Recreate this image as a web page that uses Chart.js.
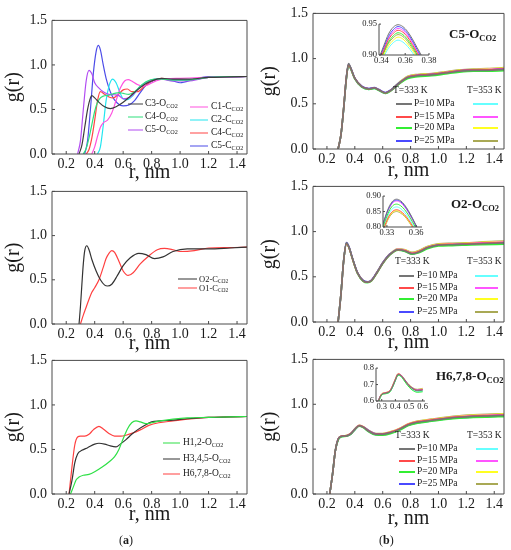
<!DOCTYPE html>
<html>
<head>
<meta charset="utf-8">
<script src="https://cdn.jsdelivr.net/npm/chart.js@4.4.1/dist/chart.umd.min.js"></script>
<style>
  html, body { margin: 0; padding: 0; background: #fff; }
  body { position: relative; width: 511px; height: 550px; overflow: hidden; font-family: 'Liberation Serif', 'Times New Roman', serif; color: #1a1a1a; }
  canvas { position: absolute; }
  .t { position: absolute; white-space: nowrap; line-height: 1; transform: translateY(-50%); }
  .t sub { font-size: 0.65em; vertical-align: baseline; position: relative; top: 0.3em; }
  .ln { position: absolute; height: 0; transform: translateY(-50%); }
</style>
</head>
<body>
<script>
// ---- tick labels ----
const rTicks = [0.2, 0.4, 0.6, 0.8, 1.0, 1.2, 1.4];
const gTicks = [0.0, 0.5, 1.0, 1.5];
const in1RTicks = [0.34, 0.36, 0.38], in1GTicks = [0.90, 0.95];
const in2RTicks = [0.33, 0.36], in2GTicks = [0.80, 0.85, 0.90];
const in3RTicks = [0.3, 0.4, 0.5, 0.6], in3GTicks = [0.6, 0.7, 0.8];

// ---- legend text ----
const subCO2 = 'CO2';
const a1Names = ['C3-O', 'C4-O', 'C5-O', 'C1-C', 'C2-C', 'C4-C', 'C5-C'];
const a2Names = ['O2-C', 'O1-C'];
const a3Names = ['H1,2-O', 'H3,4,5-O', 'H6,7,8-O'];
const bTitles = ['C5-O', 'O2-O', 'H6,7,8-O'];
const temps = ['T=333 K', 'T=353 K'];
const pressures = ['P=10 MPa', 'P=15 MPa', 'P=20 MPa', 'P=25 MPa'];

// ---- (a) top: r, g(r) ----
const rC3O = [0.29,0.31,0.33,0.35,0.37,0.38,0.40,0.43,0.47,0.51,0.55,0.60,0.65,0.70,0.75,0.80,0.87,0.95,1.05,1.2,1.35,1.47];
const gC3O = [0,0.10,0.30,0.50,0.63,0.655,0.63,0.58,0.53,0.51,0.53,0.58,0.65,0.72,0.78,0.82,0.85,0.84,0.84,0.86,0.865,0.87];
const rC4O = [0.32,0.34,0.36,0.38,0.40,0.42,0.44,0.46,0.50,0.54,0.57,0.60,0.64,0.68,0.72,0.76,0.82,0.88,0.95,1.05,1.2,1.35,1.47];
const gC4O = [0,0.06,0.18,0.33,0.48,0.58,0.63,0.65,0.66,0.68,0.69,0.68,0.67,0.70,0.76,0.81,0.84,0.84,0.83,0.83,0.86,0.87,0.87];
const rC5O = [0.28,0.30,0.32,0.34,0.36,0.38,0.40,0.43,0.46,0.50,0.54,0.57,0.60,0.65,0.70,0.75,0.80,0.87,0.95,1.05,1.2,1.35,1.47];
const gC5O = [0,0.15,0.50,0.82,0.94,0.90,0.80,0.74,0.70,0.67,0.665,0.655,0.62,0.64,0.72,0.79,0.83,0.84,0.82,0.82,0.86,0.87,0.87];
const rC1C = [0.38,0.40,0.42,0.44,0.46,0.49,0.52,0.55,0.58,0.61,0.635,0.66,0.70,0.74,0.78,0.83,0.90,1.0,1.1,1.2,1.35,1.47];
const gC1C = [0,0.08,0.20,0.30,0.35,0.38,0.46,0.60,0.74,0.82,0.835,0.82,0.78,0.76,0.78,0.82,0.845,0.85,0.855,0.86,0.865,0.87];
const rC2C = [0.42,0.44,0.46,0.48,0.50,0.525,0.55,0.575,0.60,0.63,0.67,0.72,0.78,0.85,0.92,1.0,1.1,1.2,1.35,1.47];
const gC2C = [0,0.08,0.32,0.60,0.76,0.84,0.80,0.70,0.62,0.61,0.66,0.76,0.82,0.845,0.84,0.83,0.84,0.86,0.865,0.87];
const rC4C = [0.34,0.36,0.38,0.40,0.42,0.44,0.47,0.50,0.53,0.56,0.60,0.63,0.66,0.70,0.75,0.80,0.87,0.95,1.05,1.2,1.35,1.47];
const gC4C = [0,0.05,0.18,0.38,0.60,0.70,0.67,0.64,0.63,0.66,0.72,0.73,0.70,0.70,0.76,0.82,0.85,0.84,0.83,0.86,0.865,0.87];
const rC5C = [0.33,0.35,0.37,0.39,0.41,0.425,0.44,0.46,0.48,0.52,0.56,0.60,0.64,0.68,0.72,0.76,0.82,0.88,0.95,1.0,1.1,1.2,1.3,1.47];
const gC5C = [0,0.15,0.50,0.90,1.15,1.22,1.17,1.00,0.85,0.66,0.57,0.54,0.55,0.60,0.69,0.77,0.83,0.84,0.82,0.80,0.84,0.87,0.86,0.87];

// ---- (a) middle ----
const rO2C = [0.29,0.30,0.31,0.32,0.33,0.345,0.36,0.38,0.41,0.44,0.47,0.49,0.52,0.56,0.60,0.65,0.71,0.76,0.82,0.88,0.95,1.05,1.2,1.35,1.47];
const gO2C = [0,0.20,0.45,0.68,0.83,0.885,0.84,0.73,0.60,0.50,0.44,0.43,0.45,0.55,0.66,0.75,0.80,0.785,0.74,0.76,0.82,0.85,0.85,0.86,0.87];
const rO1C = [0.30,0.32,0.34,0.36,0.38,0.40,0.43,0.46,0.48,0.50,0.52,0.54,0.57,0.60,0.635,0.67,0.72,0.78,0.84,0.89,0.95,1.0,1.1,1.2,1.35,1.47];
const gO1C = [0,0.10,0.19,0.28,0.36,0.41,0.50,0.64,0.74,0.80,0.83,0.81,0.71,0.60,0.55,0.58,0.68,0.77,0.84,0.855,0.84,0.82,0.83,0.86,0.865,0.87];

// ---- (a) bottom ----
const rH12 = [0.23,0.25,0.27,0.29,0.32,0.36,0.40,0.45,0.50,0.54,0.57,0.60,0.63,0.66,0.69,0.72,0.76,0.80,0.86,0.95,1.05,1.2,1.35,1.47];
const gH12 = [0,0.08,0.16,0.19,0.21,0.22,0.25,0.30,0.36,0.42,0.50,0.62,0.73,0.80,0.82,0.81,0.79,0.80,0.82,0.84,0.855,0.86,0.865,0.87];
const rH345 = [0.22,0.24,0.26,0.28,0.31,0.35,0.40,0.43,0.47,0.51,0.55,0.58,0.62,0.66,0.70,0.75,0.80,0.86,0.95,1.05,1.2,1.35,1.47];
const gH345 = [0,0.15,0.35,0.45,0.49,0.52,0.56,0.57,0.56,0.54,0.53,0.56,0.61,0.67,0.72,0.77,0.81,0.82,0.83,0.845,0.86,0.865,0.87];
const rH678 = [0.22,0.24,0.26,0.28,0.30,0.33,0.36,0.39,0.43,0.46,0.50,0.54,0.58,0.62,0.66,0.72,0.78,0.85,0.95,1.05,1.2,1.35,1.47];
const gH678 = [0,0.30,0.55,0.64,0.65,0.65,0.67,0.72,0.76,0.73,0.68,0.65,0.65,0.66,0.68,0.72,0.77,0.80,0.82,0.84,0.86,0.865,0.87];

// ---- (b) top: C5-O(CO2), order T333 P10..P25, T353 P10..P25 ----
const rB1 = [0.28,0.30,0.32,0.34,0.355,0.37,0.40,0.45,0.50,0.54,0.57,0.62,0.66,0.72,0.78,0.85,0.95,1.05,1.15,1.25,1.35,1.47];
const c5o333_10 = [0,0.15,0.45,0.80,0.945,0.90,0.78,0.69,0.665,0.675,0.655,0.62,0.65,0.73,0.79,0.81,0.82,0.84,0.86,0.87,0.87,0.88];
const c5o333_15 = [0,0.15,0.45,0.80,0.935,0.895,0.78,0.69,0.665,0.675,0.655,0.62,0.65,0.73,0.795,0.815,0.825,0.845,0.865,0.875,0.875,0.885];
const c5o333_20 = [0,0.15,0.45,0.79,0.93,0.89,0.775,0.685,0.66,0.67,0.65,0.615,0.645,0.72,0.78,0.80,0.81,0.83,0.85,0.86,0.86,0.865];
const c5o333_25 = [0,0.15,0.45,0.80,0.94,0.90,0.785,0.695,0.67,0.68,0.66,0.625,0.655,0.735,0.795,0.815,0.825,0.845,0.865,0.875,0.875,0.885];
const c5o353_10 = [0,0.15,0.44,0.79,0.92,0.885,0.775,0.685,0.66,0.67,0.65,0.615,0.645,0.725,0.79,0.81,0.82,0.84,0.86,0.87,0.87,0.875];
const c5o353_15 = [0,0.15,0.45,0.79,0.925,0.89,0.78,0.69,0.665,0.675,0.655,0.62,0.65,0.73,0.795,0.815,0.825,0.845,0.865,0.875,0.88,0.89];
const c5o353_20 = [0,0.15,0.45,0.79,0.925,0.89,0.78,0.69,0.665,0.675,0.655,0.62,0.65,0.735,0.80,0.82,0.83,0.85,0.87,0.88,0.885,0.895];
const c5o353_25 = [0,0.15,0.45,0.79,0.93,0.89,0.78,0.69,0.665,0.675,0.655,0.62,0.655,0.74,0.805,0.825,0.835,0.855,0.875,0.885,0.89,0.90];
// inset of the first peak
const rIn1 = [0.338,0.342,0.346,0.350,0.354,0.358,0.362,0.366,0.370,0.374,0.378];
const c5oIn333_10 = [0.895,0.915,0.934,0.945,0.949,0.946,0.938,0.926,0.912,0.898,0.884];
const c5oIn333_15 = [0.889,0.907,0.925,0.935,0.940,0.937,0.929,0.917,0.904,0.891,0.876];
const c5oIn333_20 = [0.887,0.905,0.921,0.931,0.936,0.933,0.925,0.914,0.901,0.888,0.874];
const c5oIn333_25 = [0.893,0.912,0.930,0.941,0.946,0.943,0.935,0.923,0.909,0.895,0.880];
const c5oIn353_10 = [0.882,0.897,0.911,0.920,0.924,0.921,0.914,0.904,0.893,0.881,0.868];
const c5oIn353_15 = [0.890,0.909,0.927,0.938,0.943,0.940,0.932,0.920,0.906,0.893,0.878];
const c5oIn353_20 = [0.884,0.900,0.915,0.924,0.929,0.926,0.918,0.908,0.896,0.884,0.870];
const c5oIn353_25 = [0.886,0.903,0.919,0.928,0.933,0.930,0.922,0.911,0.899,0.886,0.872];

// ---- (b) middle: O2-O(CO2) ----
const rB2 = [0.28,0.30,0.32,0.34,0.36,0.38,0.42,0.46,0.49,0.52,0.56,0.60,0.65,0.71,0.76,0.81,0.86,0.92,1.0,1.1,1.2,1.3,1.47];
const o2o333_10 = [0,0.30,0.68,0.875,0.82,0.72,0.54,0.455,0.44,0.46,0.55,0.65,0.745,0.80,0.785,0.755,0.775,0.82,0.85,0.855,0.86,0.865,0.875];
const o2o333_15 = [0,0.30,0.68,0.865,0.815,0.715,0.54,0.455,0.44,0.46,0.55,0.65,0.745,0.80,0.79,0.76,0.78,0.825,0.855,0.86,0.865,0.87,0.88];
const o2o333_20 = [0,0.30,0.68,0.87,0.815,0.715,0.535,0.45,0.435,0.455,0.545,0.645,0.74,0.795,0.78,0.75,0.765,0.81,0.84,0.845,0.85,0.855,0.86];
const o2o333_25 = [0,0.30,0.68,0.88,0.825,0.72,0.545,0.46,0.445,0.465,0.555,0.655,0.75,0.80,0.785,0.755,0.775,0.82,0.85,0.855,0.86,0.865,0.875];
const o2o353_10 = [0,0.30,0.68,0.865,0.815,0.715,0.54,0.455,0.44,0.46,0.55,0.65,0.745,0.80,0.785,0.755,0.775,0.82,0.85,0.855,0.86,0.865,0.875];
const o2o353_15 = [0,0.30,0.68,0.875,0.82,0.72,0.54,0.455,0.44,0.46,0.55,0.65,0.745,0.805,0.79,0.76,0.78,0.825,0.855,0.86,0.865,0.875,0.885];
const o2o353_20 = [0,0.30,0.68,0.865,0.815,0.715,0.54,0.455,0.44,0.46,0.55,0.65,0.75,0.805,0.795,0.765,0.785,0.83,0.86,0.865,0.87,0.88,0.89];
const o2o353_25 = [0,0.30,0.68,0.865,0.815,0.715,0.54,0.455,0.44,0.46,0.55,0.655,0.75,0.81,0.80,0.77,0.79,0.835,0.865,0.87,0.875,0.885,0.895];
const rIn2 = [0.324,0.328,0.332,0.336,0.340,0.344,0.348,0.352,0.356,0.360,0.364];
const o2oIn333_10 = [0.790,0.830,0.864,0.884,0.890,0.885,0.872,0.853,0.830,0.805,0.780];
const o2oIn333_15 = [0.770,0.806,0.835,0.851,0.856,0.851,0.840,0.824,0.805,0.783,0.760];
const o2oIn333_20 = [0.780,0.818,0.850,0.869,0.874,0.869,0.857,0.839,0.818,0.795,0.770];
const o2oIn333_25 = [0.788,0.828,0.861,0.881,0.887,0.882,0.869,0.850,0.828,0.803,0.778];
const o2oIn353_10 = [0.775,0.812,0.843,0.860,0.865,0.860,0.848,0.831,0.811,0.789,0.765];
const o2oIn353_15 = [0.786,0.826,0.858,0.878,0.884,0.879,0.866,0.847,0.825,0.800,0.775];
const o2oIn353_20 = [0.768,0.804,0.832,0.848,0.853,0.848,0.837,0.821,0.802,0.781,0.758];
const o2oIn353_25 = [0.766,0.801,0.829,0.845,0.850,0.845,0.835,0.819,0.800,0.779,0.756];

// ---- (b) bottom: H6,7,8-O(CO2) ----
const rB3 = [0.22,0.24,0.26,0.28,0.30,0.34,0.37,0.40,0.43,0.46,0.50,0.55,0.60,0.66,0.72,0.78,0.85,0.95,1.05,1.15,1.25,1.35,1.47];
const h678333_10 = [0,0.22,0.48,0.61,0.64,0.648,0.67,0.72,0.76,0.745,0.70,0.665,0.665,0.685,0.72,0.77,0.80,0.82,0.84,0.855,0.865,0.87,0.875];
const h678333_15 = [0,0.22,0.48,0.61,0.642,0.65,0.672,0.722,0.762,0.747,0.702,0.668,0.668,0.69,0.725,0.775,0.805,0.825,0.845,0.86,0.87,0.875,0.88];
const h678333_20 = [0,0.22,0.48,0.60,0.636,0.644,0.665,0.715,0.755,0.74,0.693,0.658,0.656,0.675,0.71,0.76,0.79,0.81,0.83,0.845,0.852,0.857,0.862];
const h678333_25 = [0,0.22,0.48,0.61,0.64,0.648,0.668,0.717,0.758,0.748,0.705,0.67,0.668,0.685,0.718,0.765,0.795,0.815,0.835,0.85,0.86,0.865,0.87];
const h678353_10 = [0,0.22,0.48,0.60,0.638,0.646,0.667,0.718,0.757,0.742,0.696,0.66,0.66,0.68,0.715,0.765,0.795,0.815,0.835,0.85,0.86,0.865,0.87];
const h678353_15 = [0,0.22,0.48,0.61,0.642,0.65,0.673,0.723,0.763,0.748,0.703,0.67,0.67,0.69,0.725,0.775,0.805,0.825,0.845,0.862,0.872,0.878,0.884];
const h678353_20 = [0,0.22,0.48,0.61,0.643,0.651,0.674,0.724,0.764,0.749,0.705,0.672,0.672,0.693,0.728,0.778,0.808,0.83,0.85,0.867,0.877,0.884,0.89];
const h678353_25 = [0,0.22,0.48,0.61,0.644,0.652,0.675,0.725,0.765,0.75,0.707,0.674,0.674,0.695,0.73,0.78,0.812,0.834,0.855,0.872,0.882,0.889,0.895];
const rIn3 = [0.26,0.28,0.30,0.33,0.36,0.38,0.40,0.42,0.44,0.46,0.48,0.50,0.53,0.56,0.60];
const h678In333_10 = [0.55,0.61,0.640,0.648,0.660,0.690,0.730,0.762,0.755,0.735,0.712,0.692,0.672,0.662,0.666];
const h678In333_15 = [0.55,0.61,0.642,0.650,0.662,0.692,0.732,0.764,0.757,0.737,0.714,0.694,0.674,0.665,0.669];
const h678In333_20 = [0.55,0.60,0.636,0.644,0.655,0.684,0.724,0.756,0.750,0.729,0.705,0.684,0.663,0.653,0.656];
const h678In333_25 = [0.55,0.61,0.640,0.648,0.658,0.686,0.726,0.760,0.756,0.738,0.716,0.696,0.676,0.666,0.668];
const h678In353_10 = [0.55,0.60,0.638,0.646,0.657,0.687,0.727,0.759,0.752,0.731,0.707,0.687,0.666,0.656,0.660];
const h678In353_15 = [0.55,0.61,0.642,0.650,0.663,0.694,0.734,0.765,0.758,0.738,0.715,0.695,0.675,0.667,0.672];
const h678In353_20 = [0.55,0.61,0.643,0.651,0.664,0.695,0.735,0.766,0.759,0.739,0.716,0.697,0.677,0.669,0.674];
const h678In353_25 = [0.55,0.61,0.644,0.652,0.665,0.696,0.736,0.767,0.760,0.741,0.718,0.699,0.679,0.671,0.677];

// ---- colours ----
const a1Colors = ['#3c3c3c', '#2fe07c', '#b24cf2', '#ff52e0', '#22e6f0', '#ff4545', '#4c4ce8'];
const a2Colors = ['#333333', '#ff4040'];
const a3Colors = ['#2ee046', '#333333', '#ff4040'];
const bColors = ['#757575', '#ff4a4a', '#33ee33', '#4a4aff', '#66ffff', '#ff55ff', '#ffff22', '#a9a955'];

Chart.defaults.font.family = "'Liberation Serif', 'Times New Roman', serif";
Chart.defaults.color = '#1a1a1a';

// box around the plot plus small inward ticks (insets get only left/bottom axes)
Chart.register({
    id: 'frame',
    afterDatasetsDraw(chart, args, opts) {
        const { ctx, chartArea: a, scales } = chart;
        ctx.save();
        ctx.strokeStyle = '#4a4a4a';
        ctx.lineWidth = 1;
        ctx.beginPath();
        if (opts.box) {
            ctx.rect(a.left, a.top, a.right - a.left, a.bottom - a.top);
        } else {
            ctx.moveTo(a.left, a.top);
            ctx.lineTo(a.left, a.bottom);
            ctx.lineTo(a.right, a.bottom);
        }
        const tl = opts.tick || 3;
        scales.x.ticks.forEach((t) => {
            const px = scales.x.getPixelForValue(t.value);
            ctx.moveTo(px, a.bottom);
            ctx.lineTo(px, a.bottom - tl);
        });
        scales.y.ticks.forEach((t) => {
            const py = scales.y.getPixelForValue(t.value);
            ctx.moveTo(a.left, py);
            ctx.lineTo(a.left + tl, py);
        });
        ctx.stroke();
        ctx.restore();
    },
});

const line = (r, g, color, w) => ({
    data: r.map((x, i) => ({ x, y: g[i] })),
    borderColor: color,
    borderWidth: w,
    fill: false,
});

function plot(box, o) {
    const [l, t, r, b] = box;
    const padT = o.inset ? 6 : 9, padR = o.inset ? 10 : 9;
    const w = o.yw + (r - l) + padR, h = padT + (b - t) + o.xh;
    const cv = document.createElement('canvas');
    cv.width = w;
    cv.height = h;
    Object.assign(cv.style, { left: (l - o.yw) + 'px', top: (t - padT) + 'px', width: w + 'px', height: h + 'px' });
    document.body.appendChild(cv);
    const tickFont = { size: o.inset ? 8.5 : 14 };
    return new Chart(cv, {
        type: 'line',
        data: { datasets: o.sets },
        options: {
            responsive: false,
            animation: false,
            events: [],
            layout: { padding: { top: padT, right: padR, left: 0, bottom: 0 } },
            elements: { point: { radius: 0 }, line: { cubicInterpolationMode: 'monotone' } },
            plugins: { legend: { display: false }, tooltip: { enabled: false }, frame: { box: !o.inset, tick: o.inset ? 2 : 3 } },
            scales: {
                x: {
                    type: 'linear', min: o.xr[0], max: o.xr[1],
                    afterBuildTicks: (s) => { s.ticks = o.xt.map((v) => ({ value: v })); },
                    afterFit: (s) => { s.height = o.xh; },
                    grid: { display: false, drawTicks: false },
                    border: { display: false },
                    ticks: { font: tickFont, padding: o.inset ? 1 : 2, maxRotation: 0, autoSkip: false, callback: (v) => v.toFixed(o.xd) },
                    title: o.inset ? { display: false } : { display: true, text: 'r, nm', font: { size: 20 }, padding: { top: 0, bottom: 0 } },
                },
                y: {
                    type: 'linear', min: o.yr[0], max: o.yr[1],
                    afterBuildTicks: (s) => { s.ticks = o.yt.map((v) => ({ value: v })); },
                    afterFit: (s) => { s.width = o.yw; },
                    grid: { display: false, drawTicks: false },
                    border: { display: false },
                    ticks: { font: tickFont, padding: o.inset ? 2 : 5, autoSkip: false, callback: (v) => v.toFixed(o.yd) },
                    title: o.inset ? { display: false } : { display: true, text: 'g(r)', font: { size: 20 }, padding: { top: o.ytp, bottom: 0 } },
                },
            },
        },
    });
}

const mainOpts = (yw, xh, ytp, sets) => ({ yw, xh, ytp, sets, xr: [0.1, 1.47], yr: [0, 1.5], xt: rTicks, yt: gTicks, xd: 1, yd: 1 });

// ---- (a) panels ----
plot([52, 16, 247, 154], mainOpts(52, 31, 1.3, [
    line(rC3O, gC3O, a1Colors[0], 1.2), line(rC4O, gC4O, a1Colors[1], 1.2), line(rC5O, gC5O, a1Colors[2], 1.2),
    line(rC1C, gC1C, a1Colors[3], 1.2), line(rC2C, gC2C, a1Colors[4], 1.2), line(rC4C, gC4C, a1Colors[5], 1.2),
    line(rC5C, gC5C, a1Colors[6], 1.2),
]));
plot([52, 187, 247, 324], mainOpts(52, 32, 1.3, [
    line(rO2C, gO2C, a2Colors[0], 1.2), line(rO1C, gO1C, a2Colors[1], 1.2),
]));
plot([52, 356, 247, 494], mainOpts(52, 33, 1.3, [
    line(rH12, gH12, a3Colors[0], 1.2), line(rH345, gH345, a3Colors[1], 1.2), line(rH678, gH678, a3Colors[2], 1.2),
]));

// ---- (b) panels ----
const c5oMain = [c5o333_10, c5o333_15, c5o333_20, c5o333_25, c5o353_10, c5o353_15, c5o353_20, c5o353_25];
const c5oIn = [c5oIn333_10, c5oIn333_15, c5oIn333_20, c5oIn333_25, c5oIn353_10, c5oIn353_15, c5oIn353_20, c5oIn353_25];
const o2oMain = [o2o333_10, o2o333_15, o2o333_20, o2o333_25, o2o353_10, o2o353_15, o2o353_20, o2o353_25];
const o2oIn = [o2oIn333_10, o2oIn333_15, o2oIn333_20, o2oIn333_25, o2oIn353_10, o2oIn353_15, o2oIn353_20, o2oIn353_25];
const h678Main = [h678333_10, h678333_15, h678333_20, h678333_25, h678353_10, h678353_15, h678353_20, h678353_25];
const h678In = [h678In333_10, h678In333_15, h678In333_20, h678In333_25, h678In353_10, h678In353_15, h678In353_20, h678In353_25];

plot([313, 9, 504, 149], mainOpts(58, 34, 3, c5oMain.map((g, i) => line(rB1, g, bColors[i], 1.6))));
plot([313, 182, 504, 322], mainOpts(58, 33, 3, o2oMain.map((g, i) => line(rB2, g, bColors[i], 1.6))));
plot([313, 355, 504, 494], mainOpts(58, 37, 3, h678Main.map((g, i) => line(rB3, g, bColors[i], 1.6))));

// insets
plot([379, 23, 429, 55], { inset: true, yw: 20, xh: 12, xr: [0.338, 0.38], yr: [0.90, 0.95], xt: in1RTicks, yt: in1GTicks, xd: 2, yd: 2,
    sets: c5oIn.map((g, i) => line(rIn1, g, bColors[i], 1)) });
plot([383, 195, 422, 227], { inset: true, yw: 20, xh: 12, xr: [0.326, 0.366], yr: [0.80, 0.90], xt: in2RTicks, yt: in2GTicks, xd: 2, yd: 2,
    sets: o2oIn.map((g, i) => line(rIn2, g, bColors[i], 1)) });
plot([376, 367, 425, 401], { inset: true, yw: 16, xh: 12, xr: [0.258, 0.617], yr: [0.6, 0.8], xt: in3RTicks, yt: in3GTicks, xd: 1, yd: 1,
    sets: h678In.map((g, i) => line(rIn3, g, bColors[i], 1)) });

// ---- legends and labels (HTML text) ----
function txt(x, y, html, size, bold) {
    const d = document.createElement('div');
    d.className = 't';
    d.style.left = x + 'px';
    d.style.top = y + 'px';
    d.style.fontSize = size + 'px';
    if (bold) d.style.fontWeight = 'bold';
    d.innerHTML = html;
    document.body.appendChild(d);
}
function seg(x1, x2, y, color, w) {
    const d = document.createElement('div');
    d.className = 'ln';
    d.style.left = x1 + 'px';
    d.style.top = y + 'px';
    d.style.width = (x2 - x1) + 'px';
    d.style.borderTop = w + 'px solid ' + color;
    document.body.appendChild(d);
}
const withSub = (name) => name + '<sub>' + subCO2 + '</sub>';

[104, 117, 130].forEach((y, i) => { seg(128, 143, y, a1Colors[i], 1.5); txt(145, y, withSub(a1Names[i]), 9.5); });
[107, 120, 133, 146].forEach((y, i) => { seg(190, 208, y, a1Colors[i + 3], 1.5); txt(211, y, withSub(a1Names[i + 3]), 9.5); });
[278.5, 287.5].forEach((y, i) => { seg(178, 197, y, a2Colors[i], 1.3); txt(199, y, withSub(a2Names[i]), 8.5); });
[443, 459, 474].forEach((y, i) => { seg(163, 180, y, a3Colors[i], 1.5); txt(183, y, withSub(a3Names[i]), 9.5); });

const bLegends = [
    { head: 90.7, rows: [104.3, 116.7, 128.3, 140.7], l: [396, 412], tx: 414, rr: [473, 498], h1: 393 },
    { head: 262.3, rows: [275.7, 287.7, 299.3, 311.7], l: [399, 414], tx: 417, rr: [475, 498], h1: 395 },
    { head: 436, rows: [449, 460.7, 472.3, 484.3], l: [399, 415], tx: 417, rr: [476, 498], h1: 395 },
];
bLegends.forEach((L) => {
    txt(L.h1, L.head, temps[0], 9.5);
    txt(467, L.head, temps[1], 9.5);
    L.rows.forEach((y, i) => {
        seg(L.l[0], L.l[1], y, bColors[i], 2.2);
        txt(L.tx, y, pressures[i], 9.5);
        seg(L.rr[0], L.rr[1], y, bColors[i + 4], 2.2);
    });
});

txt(449, 33, withSub(bTitles[0]), 13, true);
txt(451, 203, withSub(bTitles[1]), 13, true);
txt(436, 375, withSub(bTitles[2]), 13, true);

txt(119, 540, '(<b>a</b>)', 12);
txt(379, 540, '(<b>b</b>)', 12);
</script>
</body>
</html>
